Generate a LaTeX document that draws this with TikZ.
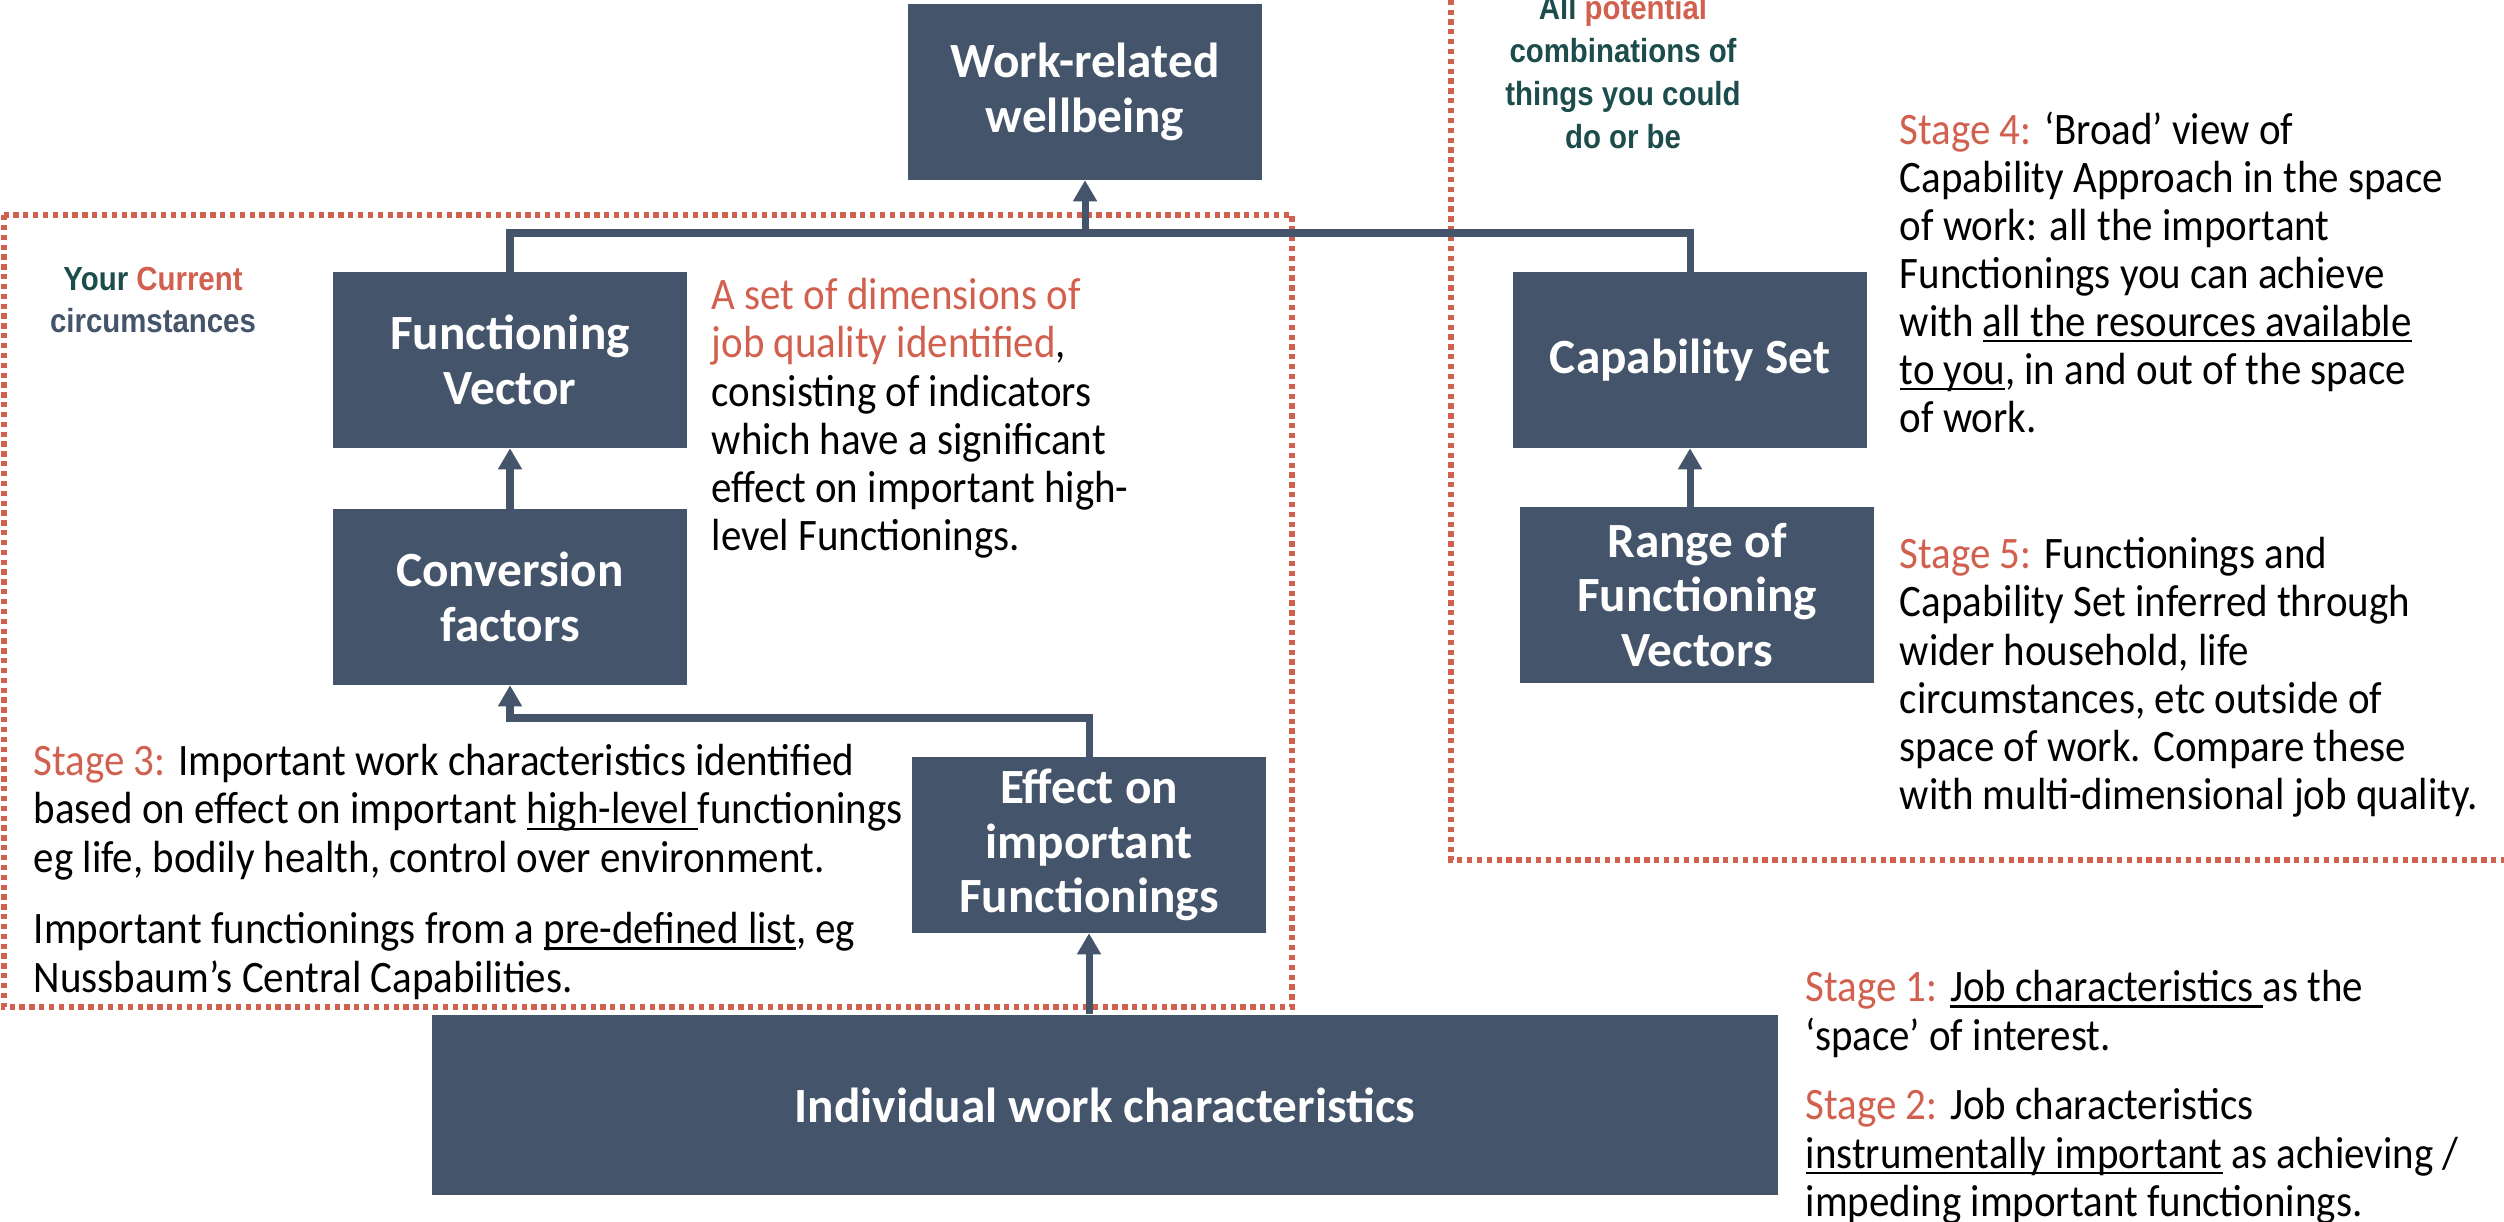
\documentclass[tikz,border=0pt]{standalone}
\usepackage{fontspec}
\setmainfont{Carlito}[FakeStretch=0.91]
\newfontfamily\boxfont{Carlito}
\newfontfamily\tagfont{Liberation Sans}[FakeStretch=0.88]
\usetikzlibrary{arrows.meta}
\definecolor{slate}{HTML}{44546A}
\definecolor{rust}{HTML}{D2604F}
\definecolor{deepteal}{HTML}{1C4C4C}
\newcommand{\stg}[1]{\textcolor{rust}{#1}}
\newcommand{\undl}[1]{\leavevmode\setbox0\hbox{#1}\rlap{\rule[-1.6pt]{\wd0}{0.6pt}}\box0\relax}

\begin{document}
\begin{tikzpicture}[x=0.01cm, y=-0.01cm, >={Triangle[length=6pt,width=6.5pt]},
    box/.style={fill=slate, text=white, align=center, inner sep=0pt,
      minimum width=3.53cm, minimum height=1.75cm,
      font=\boxfont\bfseries\fontsize{14}{15.6}\selectfont},
    note/.style={anchor=north west, align=left, inner sep=0pt,
      font=\fontsize{12.8}{13.66}\selectfont},
    tag/.style={align=center, inner sep=0pt,
      font=\tagfont\bfseries\fontsize{9.5}{12.2}\selectfont},
    frame/.style={draw=rust, line width=1.7pt, dash pattern=on 1.5pt off 1.3pt},
    link/.style={draw=slate, line width=2pt}]
      \useasboundingbox (0,0) rectangle (2504,1222);
      %\draw [help lines, step=100] (0,0) grid (2504,1222);
      \draw[frame] (4,215) rectangle (1292,1007);
      \draw[frame] (1451,-20) -- (1451,860) -- (2530,860);

      \node[box] (wellbeing) at (1085,92) {Work-related\\wellbeing};
      \node[box] (fvector) at (510,360) {Functioning\\Vector};
      \node[box] (conversion) at (510,597) {Conversion\\factors};
      \node[box] (effect) at (1089,845) {Effect on\\important\\Functionings};
      \node[box, minimum width=13.45cm, minimum height=1.8cm] (individual) at (1105,1105) {Individual work characteristics};
      \node[box] (capset) at (1690,360) {Capability Set};
      \node[box] (range) at (1697,595) {Range of\\Functioning\\Vectors};

      \node[tag] (current) at (153,300) {\textcolor{deepteal}{Your} \textcolor{rust}{Current}\\\textcolor{slate}{circumstances}};
      \node[tag, text=deepteal] (potential) at (1623,72) {All \textcolor{rust}{potential}\\combinations of\\things you could\\do or be};

      \node[note] (dimensions) at (711,278) {\stg{A set of dimensions of}\\\stg{job quality identified},\\consisting of indicators\\which have a significant\\effect on important high-\\level Functionings.};
      \node[note] (stage4) at (1899,111) {\stg{Stage 4:} ‘Broad’ view of\\Capability Approach in the space\\of work: all the important\\Functionings you can achieve\\with \undl{all the resources available}\\\undl{to you}, in and out of the space\\of work.};
      \node[note] (stage5) at (1899,537) {\stg{Stage 5:} Functionings and\\Capability Set inferred through\\wider household, life\\circumstances, etc outside of\\space of work. Compare these\\with multi-dimensional job quality.};
      \node[note] (stage3) at (33,744) {\stg{Stage 3:} Important work characteristics identified\\based on effect on important \undl{high-level }functionings\\eg life, bodily health, control over environment.};
      \node[note] (nussbaum) at (33,912) {Important functionings from a \undl{pre-defined list}, eg\\Nussbaum’s Central Capabilities.};
      \node[note] (stage1) at (1805,970) {\stg{Stage 1:} \undl{Job characteristics }as the\\‘space’ of interest.};
      \node[note] (stage2) at (1805,1088) {\stg{Stage 2:} Job characteristics\\\undl{instrumentally important} as achieving /\\impeding important functionings.};

      \coordinate (junction) at (1085,233);
      \coordinate (elbow) at (510,718);
      \draw[link] (fvector.north) |- (junction) -| (capset.north);
      \draw[link,->] (junction) -- (wellbeing.south);
      \draw[link,->] (conversion.north) -- (fvector.south);
      \draw[link,->] (effect.north) |- (elbow) -- (conversion.south);
      \draw[link,->] (effect.south |- individual.north) -- (effect.south);
      \draw[link,->] (capset.south |- range.north) -- (capset.south);
    \end{tikzpicture}
\end{document}
